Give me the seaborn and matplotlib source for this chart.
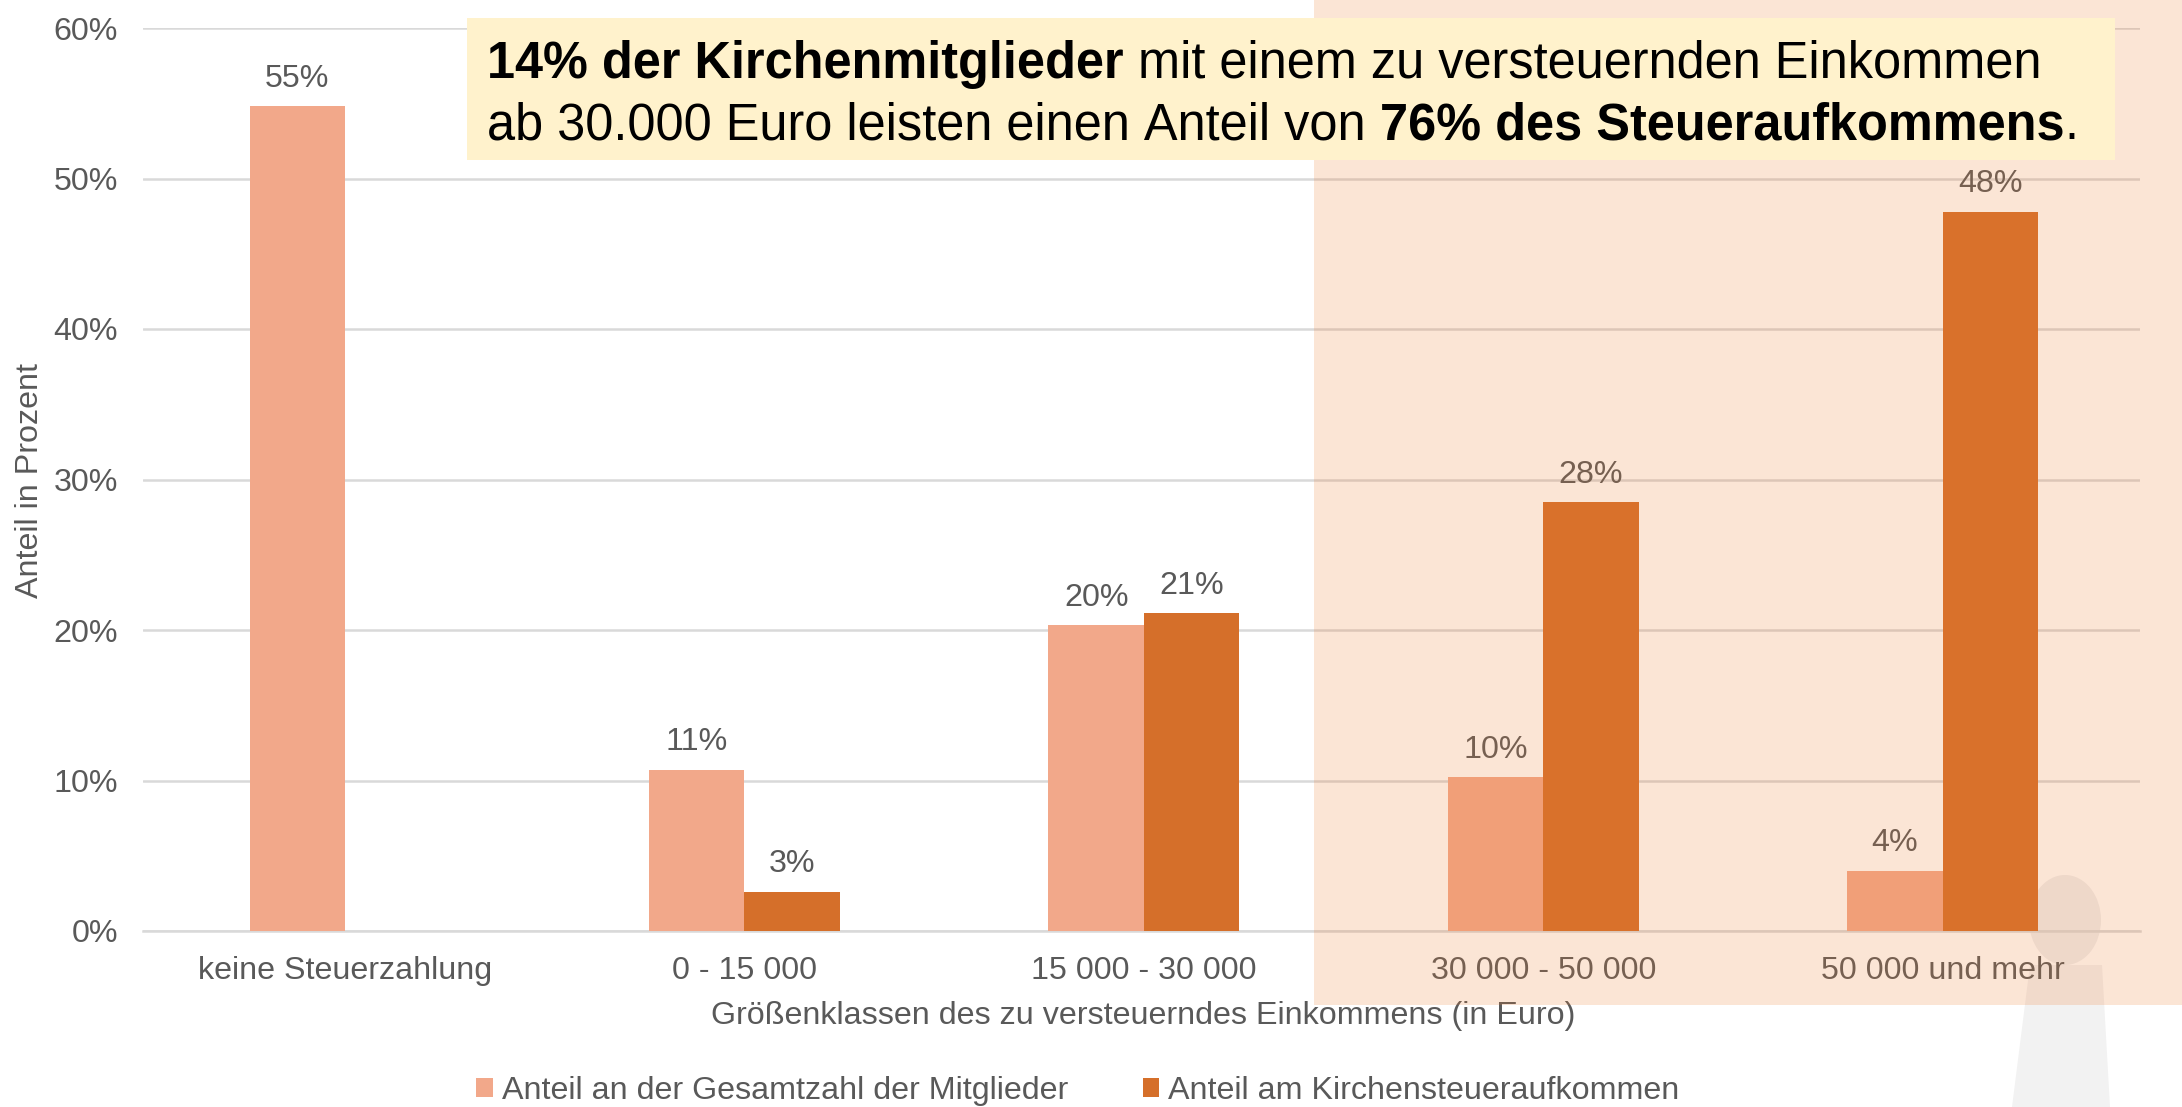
import numpy as np
import pandas as pd
import seaborn as sns
from matplotlib import pyplot as plt
from matplotlib.patches import Ellipse, Polygon, Rectangle

categories = ["keine Steuerzahlung", "0 - 15 000", "15 000 - 30 000", "30 000 - 50 000", "50 000 und mehr"]
mitglieder = [54.8, 10.7, 20.3, 10.2, 4.0]
aufkommen = [np.nan, 2.6, 21.1, 28.5, 47.8]
series_names = ["Anteil an der Gesamtzahl der Mitglieder", "Anteil am Kirchensteueraufkommen"]
y_ticks = [0, 10, 20, 30, 40, 50, 60]

W, H = 2182, 1107
GREY = "#595959"
FS = 23.2

sns.set_theme(style="white")
plt.rcParams["font.family"] = ["Liberation Sans", "DejaVu Sans"]

df = pd.DataFrame({
    "klasse": categories * 2,
    "anteil": mitglieder + aufkommen,
    "reihe": [series_names[0]] * 5 + [series_names[1]] * 5,
})

fig = plt.figure(figsize=(W / 100, H / 100), dpi=100)
ax = fig.add_axes([143 / W, 1 - 931 / H, (2140 - 143) / W, (931 - 28) / H])


def figrect(x0, y0, x1, y1, **kw):
    # pixel box, y counted from the top like in the picture
    return Rectangle((x0 / W, 1 - y1 / H), (x1 - x0) / W, (y1 - y0) / H, transform=fig.transFigure, **kw)


# faint figure in the lower right corner, behind the chart
ax.patch.set_alpha(0)
fig.add_artist(Ellipse((2065 / W, 1 - 920 / H), 72 / W, 90 / H, transform=fig.transFigure,
                       color="#EBEBEB", alpha=0.8, lw=0, zorder=-2))
body = [(2030, 965), (2102, 965), (2110, 1107), (2012, 1107)]
fig.add_artist(Polygon([(x / W, 1 - y / H) for x, y in body], transform=fig.transFigure,
                       color="#F2F2F2", lw=0, zorder=-2))

sns.barplot(data=df, x="klasse", y="anteil", hue="reihe", order=categories, hue_order=series_names,
            palette=["#F2A88A", "#D56F2A"], saturation=1, width=0.478, linewidth=0, ax=ax, zorder=3)

ax.set_xlim(-0.506, 4.494)
ax.set_ylim(0, 60)
ax.set_yticks(y_ticks)
ax.set_yticklabels([f"{t}%" for t in y_ticks])
ax.grid(axis="y", color="#D9D9D9", lw=1.8, zorder=0)
ax.set_axisbelow(True)
sns.despine(ax=ax, left=True, top=True, right=True)
ax.spines["bottom"].set_color("#D9D9D9")
ax.spines["bottom"].set_linewidth(1.8)
ax.tick_params(axis="both", length=0, labelsize=FS, labelcolor=GREY)
ax.tick_params(axis="x", pad=18)
ax.tick_params(axis="y", pad=18)

for c in ax.containers:
    ax.bar_label(c, fmt=lambda v: f"{int(v):d}%" if v == 28.5 else f"{v:.0f}%", padding=9, fontsize=FS, color=GREY)

ax.set_xlabel("")
ax.set_ylabel("")
fig.text(1143 / W, 1 - 1016 / H, "Größenklassen des zu versteuerndes Einkommens (in Euro)",
         ha="center", va="center", fontsize=FS, color=GREY)
fig.text(30 / W, 1 - 480 / H, "Anteil in Prozent", rotation=90, ha="center", va="center", fontsize=FS, color=GREY)

sns.move_legend(ax, "center", bbox_to_anchor=(1078 / W, 1 - 1091 / H), bbox_transform=fig.transFigure,
                ncol=2, frameon=False, title=None, fontsize=FS, labelcolor=GREY, handlelength=0.5, handleheight=0.5,
                handletextpad=0.3, columnspacing=2.3)

# highlighted income range
fig.add_artist(figrect(1314, 0, W, 1005, color="#ED7D31", alpha=0.2, lw=0, zorder=5))

# callout box
fig.add_artist(figrect(467, 18, 2115, 160, color="#FFF2CC", lw=0, zorder=6))
lines = [
    [("14% der Kirchenmitglieder", "bold"), (" mit einem zu versteuernden Einkommen", "normal")],
    [("ab 30.000 Euro leisten einen Anteil von ", "normal"), ("76% des Steueraufkommens", "bold"), (".", "normal")],
]
renderer = fig.canvas.get_renderer()
for line, ypix in zip(lines, [59, 120]):
    xpix = 487
    for part, weight in line:
        t = fig.text(xpix / W, 1 - ypix / H, part.replace(" ", "\u00a0"), fontsize=36.4, fontweight=weight,
                     color="black", ha="left", va="center_baseline", zorder=7)
        xpix += t.get_window_extent(renderer).width

plt.savefig("out.png", dpi=100)
plt.close()
